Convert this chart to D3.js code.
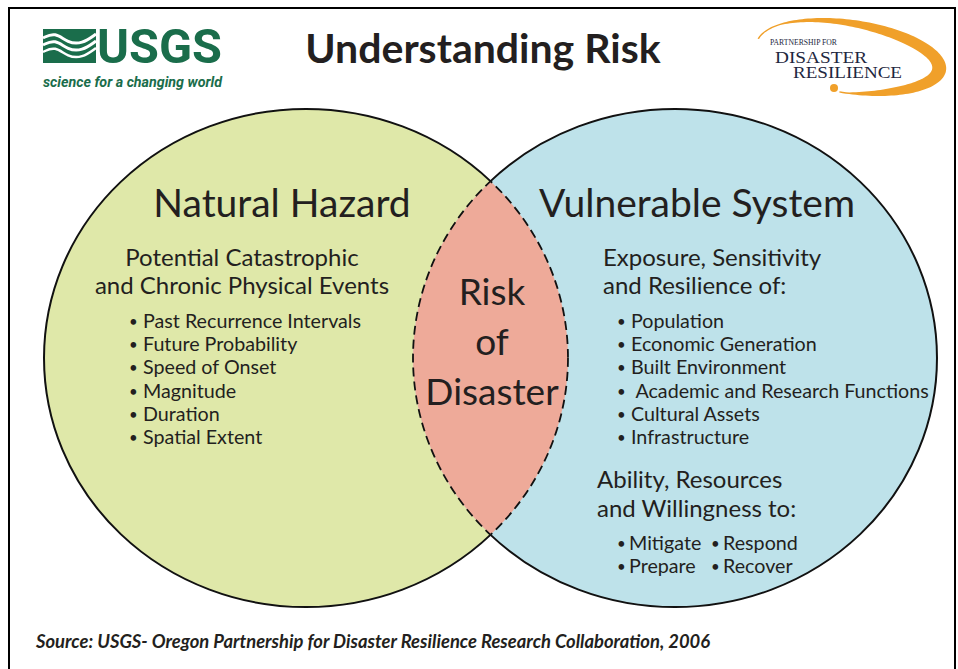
<!DOCTYPE html>
<html>
<head>
<meta charset="utf-8">
<title>Understanding Risk</title>
<script src="https://cdn.jsdelivr.net/npm/d3@7"></script>
<style>
    body { margin: 0; background: #fff; }
    svg { display: block; }
    text { font-family: Lato, "Open Sans", sans-serif; fill: #231f20; white-space: pre; }
</style>
</head>
<body>
<div id="chart"></div>
<script>
// Diagram content
const setNames = ["Natural Hazard", "Vulnerable System"];
const setCentres = [-1, 1];          // diagram units
const setRadius = 1.42;              // diagram units
const overlapLabel = ["Risk", "of", "Disaster"];

const hazardHeading = ["Potential Catastrophic", "and Chronic Physical Events"];
const hazardFactors = ["Past Recurrence Intervals", "Future Probability", "Speed of Onset",
    "Magnitude", "Duration", "Spatial Extent"];

const systemHeading = ["Exposure, Sensitivity", "and Resilience of:"];
const systemFactors = ["Population", "Economic Generation", "Built Environment",
    " Academic and Research Functions", "Cultural Assets", "Infrastructure"];

const capacityHeading = ["Ability, Resources", "and Willingness to:"];
const capacityActions = [["Mitigate", "Respond"], ["Prepare", "Recover"]];

const title = "Understanding Risk";
const source = "Source: USGS- Oregon Partnership for Disaster Resilience Research Collaboration, 2006";

const width = 958, height = 669;
const setFill = ["#dfe8a9", "#bee2ea"];
const overlapFill = "#eeaa99";

const svg = d3.select("#chart").append("svg")
    .attr("width", width)
    .attr("height", height);

svg.append("rect").attr("width", width).attr("height", height).attr("fill", "#fff");

// frame
svg.append("rect")
    .attr("x", 9).attr("y", 8)
    .attr("width", 946).attr("height", 680)
    .attr("fill", "none").attr("stroke", "#000").attr("stroke-width", 2);

// scales for the venn diagram
const x = d3.scaleLinear().domain([-1, 1]).range([306, 675]);
const y = d3.scaleLinear().domain([-1, 1]).range([533.4, 182.6]);
const rx = x(setRadius) - x(0);
const ry = y(0) - y(setRadius);

const defs = svg.append("defs");
setCentres.forEach((c, i) => {
    defs.append("clipPath").attr("id", "clip" + i)
        .append("ellipse")
        .attr("cx", x(c)).attr("cy", y(0)).attr("rx", rx).attr("ry", ry);
    const m = defs.append("mask").attr("id", "outside" + i)
        .attr("maskUnits", "userSpaceOnUse")
        .attr("x", 0).attr("y", 0).attr("width", width).attr("height", height);
    m.append("rect").attr("width", width).attr("height", height).attr("fill", "#fff");
    m.append("ellipse")
        .attr("cx", x(c)).attr("cy", y(0)).attr("rx", rx).attr("ry", ry)
        .attr("fill", "#000");
});

const venn = svg.append("g");

// set fills
venn.selectAll("ellipse.set")
    .data(setCentres)
    .join("ellipse")
    .attr("class", "set")
    .attr("cx", d => x(d)).attr("cy", y(0))
    .attr("rx", rx).attr("ry", ry)
    .attr("fill", (d, i) => setFill[i]);

// overlap
venn.append("ellipse")
    .attr("cx", x(setCentres[1])).attr("cy", y(0))
    .attr("rx", rx).attr("ry", ry)
    .attr("fill", overlapFill)
    .attr("clip-path", "url(#clip0)");

// solid outer outlines
venn.selectAll("ellipse.outline")
    .data(setCentres)
    .join("ellipse")
    .attr("class", "outline")
    .attr("cx", d => x(d)).attr("cy", y(0))
    .attr("rx", rx).attr("ry", ry)
    .attr("fill", "none").attr("stroke", "#111").attr("stroke-width", 2)
    .attr("mask", (d, i) => `url(#outside${1 - i})`);

// dashed inner outlines
venn.selectAll("ellipse.inner")
    .data(setCentres)
    .join("ellipse")
    .attr("class", "inner")
    .attr("cx", d => x(d)).attr("cy", y(0))
    .attr("rx", rx).attr("ry", ry)
    .attr("fill", "none").attr("stroke", "#111").attr("stroke-width", 1.8)
    .attr("stroke-dasharray", "9 5")
    .attr("clip-path", (d, i) => `url(#clip${1 - i})`);

// set names
const headingX = [282, 697];
svg.selectAll("text.setname")
    .data(setNames)
    .join("text")
    .attr("class", "setname")
    .attr("x", (d, i) => headingX[i]).attr("y", 217)
    .attr("text-anchor", "middle")
    .style("font-size", "39px")
    .text(d => d);

// overlap label
svg.selectAll("text.overlap")
    .data(overlapLabel)
    .join("text")
    .attr("class", "overlap")
    .attr("x", 492).attr("y", (d, i) => 305 + i * 50)
    .attr("text-anchor", "middle")
    .style("font-size", "37px")
    .text(d => d);

// natural hazard block
svg.selectAll("text.hh")
    .data(hazardHeading)
    .join("text")
    .attr("class", "hh")
    .attr("x", 242).attr("y", (d, i) => 266 + i * 28)
    .attr("text-anchor", "middle")
    .style("font-size", "24px")
    .text(d => d);

function bullet(g, bx, by) {
    g.append("text")
        .attr("x", bx).attr("y", by - 1)
        .style("font-size", "15px")
        .text("•");
}

function bullets(list, cls, bx, tx, y0, step) {
    const g = svg.append("g").attr("class", cls);
    list.forEach((d, i) => bullet(g, bx, y0 + i * step));
    g.selectAll("text.t")
        .data(list)
        .join("text")
        .attr("class", "t")
        .attr("x", tx).attr("y", (d, i) => y0 + i * step)
        .style("font-size", "19.7px")
        .text(d => d);
}

bullets(hazardFactors, "hazard", 129, 143, 328, 23.2);

// vulnerable system block
svg.selectAll("text.sh")
    .data(systemHeading)
    .join("text")
    .attr("class", "sh")
    .attr("x", 603).attr("y", (d, i) => 266 + i * 28)
    .style("font-size", "24px")
    .text(d => d);

bullets(systemFactors, "system", 617, 631, 328, 23.2);

svg.selectAll("text.ch")
    .data(capacityHeading)
    .join("text")
    .attr("class", "ch")
    .attr("x", 597).attr("y", (d, i) => 488 + i * 29)
    .style("font-size", "24px")
    .text(d => d);

const actionCols = [[617, 629], [711, 723]];
const actions = svg.append("g");
capacityActions.forEach((row, r) => {
    row.forEach((a, c) => {
        bullet(actions, actionCols[c][0], 550 + r * 23);
        actions.append("text")
            .attr("x", actionCols[c][1]).attr("y", 550 + r * 23)
            .style("font-size", "19.7px").text(a);
    });
});

// title
svg.append("text")
    .attr("x", 483).attr("y", 63)
    .attr("text-anchor", "middle")
    .style("font-size", "41px")
    .style("font-weight", "700")
    .text(title);

// source
svg.append("text")
    .attr("x", 36).attr("y", 648)
    .style("font-size", "18.4px")
    .style("font-weight", "700")
    .style("font-style", "italic")
    .text(source);

// USGS logo
const usgsGreen = "#1a6d4b";
const logo = svg.append("g");
logo.append("rect")
    .attr("x", 43).attr("y", 29).attr("width", 53).attr("height", 34)
    .attr("fill", usgsGreen);
const wave = d3.line().curve(d3.curveBasis);
[[40, 3], [47, 3], [54, 2.5]].forEach(([yy, sw]) => {
    logo.append("path")
        .attr("d", wave([[43, yy - 2], [55, yy - 8], [68, yy + 3], [82, yy + 4], [96, yy - 6]]))
        .attr("fill", "none").attr("stroke", "#fff").attr("stroke-width", sw);
});
logo.append("text")
    .attr("x", 97).attr("y", 63)
    .attr("textLength", 125).attr("lengthAdjust", "spacingAndGlyphs")
    .style("font-family", "Roboto, 'Liberation Sans', sans-serif")
    .style("font-weight", "700")
    .style("font-size", "48px")
    .style("fill", usgsGreen)
    .text("USGS");
logo.append("text")
    .attr("x", 43).attr("y", 87)
    .attr("textLength", 179).attr("lengthAdjust", "spacingAndGlyphs")
    .style("font-family", "Roboto, 'Liberation Sans', sans-serif")
    .style("font-weight", "700")
    .style("font-style", "italic")
    .style("font-size", "15px")
    .style("fill", usgsGreen)
    .text("science for a changing world");

// Partnership for Disaster Resilience logo
const swoosh = { cx: 851, cy: 57, rx: 96, ry: 37, rot: 8 };
const t0 = 188, t1 = 455;
const outer = [], inner = [];
const rad = Math.PI / 180;
for (let a = t0; a <= t1; a += 2) {
    const t = (a - t0) / (t1 - t0);
    const w = Math.max(1.5, 14 * Math.sin(Math.PI * Math.pow(t, 1.5)));
    outer.push([swoosh.rx * Math.cos(a * rad), swoosh.ry * Math.sin(a * rad)]);
    inner.push([(swoosh.rx - w) * Math.cos(a * rad), (swoosh.ry - w) * Math.sin(a * rad)]);
}
const pdr = svg.append("g");
pdr.append("path")
    .attr("transform", `translate(${swoosh.cx},${swoosh.cy}) rotate(${swoosh.rot})`)
    .attr("d", d3.line().curve(d3.curveLinearClosed)(outer.concat(inner.reverse())))
    .attr("fill", "#f0a02a");
pdr.append("circle").attr("cx", 834).attr("cy", 88).attr("r", 4).attr("fill", "#f0a02a");
const serif = "'Liberation Serif', 'DejaVu Serif', serif";
pdr.append("text")
    .attr("x", 770).attr("y", 45)
    .attr("textLength", 67).attr("lengthAdjust", "spacingAndGlyphs")
    .style("font-family", serif).style("font-size", "8.5px").style("fill", "#1e2740")
    .text("PARTNERSHIP FOR");
pdr.append("text")
    .attr("x", 775).attr("y", 63)
    .attr("textLength", 92).attr("lengthAdjust", "spacingAndGlyphs")
    .style("font-family", serif).style("font-size", "16px").style("fill", "#1e2740")
    .text("DISASTER");
pdr.append("text")
    .attr("x", 793).attr("y", 78)
    .attr("textLength", 109).attr("lengthAdjust", "spacingAndGlyphs")
    .style("font-family", serif).style("font-size", "16px").style("fill", "#1e2740")
    .text("RESILIENCE");
</script>
</body>
</html>
